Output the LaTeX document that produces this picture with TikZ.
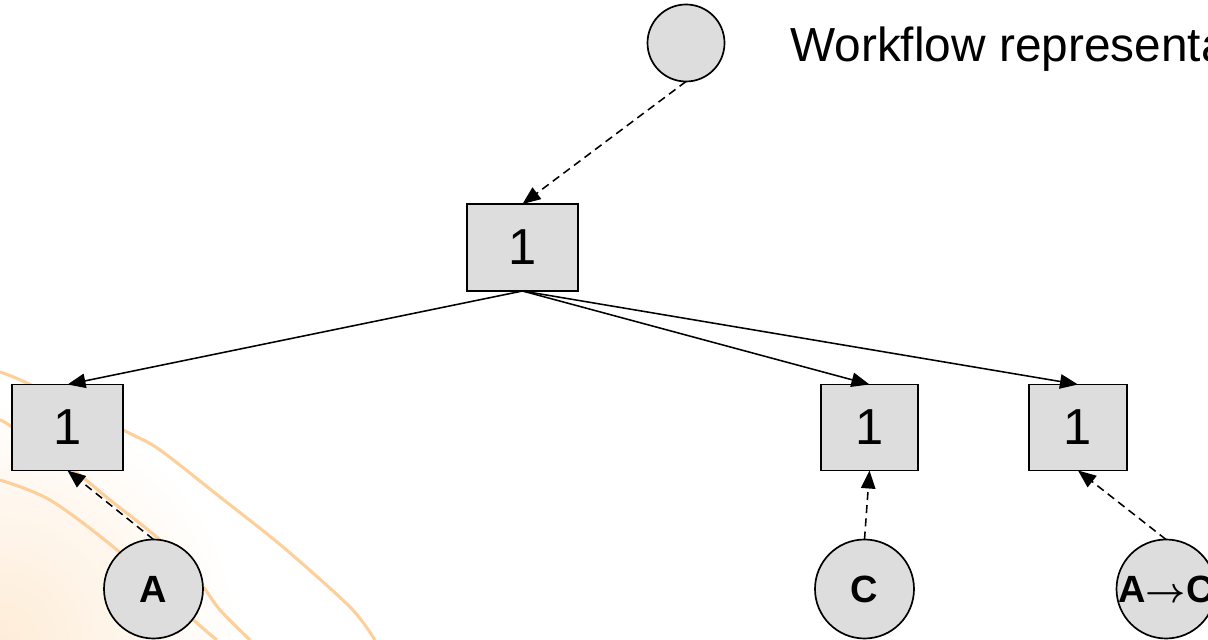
\documentclass[tikz,border=0pt]{standalone}
\usepackage{fontspec}
\setmainfont{Liberation Sans}
\usetikzlibrary{arrows.meta, positioning, calc}
\definecolor{nodegray}{RGB}{221,221,221}
\definecolor{swirl}{RGB}{253,208,155}
\definecolor{glow}{RGB}{254,236,215}
\tikzset{
  countbox/.style={draw, line width=1.4pt, fill=nodegray, minimum height=2.15cm,
    inner sep=0pt, outer sep=0pt, font=\fontsize{36}{42}\selectfont},
  seqnode/.style={circle, draw, line width=1.2pt, fill=nodegray, minimum size=2.475cm,
    inner sep=0pt, outer sep=0pt, font=\bfseries\fontsize{27}{32}\selectfont},
  tree/.style={->, line width=1.1pt},
  link/.style={->, line width=1.1pt, dash pattern=on 0.2cm off 0.13cm},
}

\begin{document}
\begin{tikzpicture}[>={Triangle[length=0.45cm,width=0.36cm]}]
\useasboundingbox (0,0) rectangle (30.2,16);
\clip (0,0) rectangle (30.2,16);

% backdrop swirls
\shade[inner color=glow, outer color=white] (0,0) circle (6);
\draw[swirl, line width=2.2pt] plot[smooth] coordinates
  {(0,6.7) (0.675,6.425) (3.175,5.2) (4,4.75) (5.5,3.575) (7.075,2.325) (8.75,0.825) (9.375,0)};
\draw[swirl, line width=2.2pt] plot[smooth] coordinates
  {(0,5.5) (0.3,5.325) (1.925,4.175) (2.75,3.5) (4,2.5) (5,1.425) (5.5,0.75) (6.25,0)};
\draw[swirl, line width=2.2pt] plot[smooth] coordinates
  {(0,4) (1.25,3.5) (2.925,2.25) (4.925,0.425) (5.425,0)};

% root and title
\node[seqnode, minimum size=1.925cm] (root) at (17.15,14.925) {};
\node[anchor=base west, inner sep=0pt, font=\fontsize{34}{40}\selectfont] (title) at (19.75,14.45) {Workflow representation};

% counters
\node[countbox, minimum width=2.775cm, minimum height=2.175cm] (top) at (13.0625,9.8125) {1};
\node[countbox, minimum width=2.775cm] (nA) at (1.6875,5.3125) {1};
\node[countbox, minimum width=2.425cm] (nC) at (21.7375,5.3125) {1};
\node[countbox, minimum width=2.45cm] (nAC) at (26.95,5.3125) {1};

% sequences
\node[seqnode] (sA) at (3.8375,1.275) {A};
\node[seqnode] (sC) at (21.6125,1.275) {C};
\node[seqnode] (sAC) at (29.15,1.275) {A{\boldmath$\rightarrow$}C};

% edges
\draw[link] (root.south) -- (top.north);
\foreach \n in {nA,nC,nAC}
  \draw[tree] (top.south) -- (\n.north);
\draw[link] (sA.north) -- (nA.south);
\draw[link] (sC.north) -- (nC.south);
\draw[link] (sAC.north) -- (nAC.south);
\end{tikzpicture}
\end{document}
